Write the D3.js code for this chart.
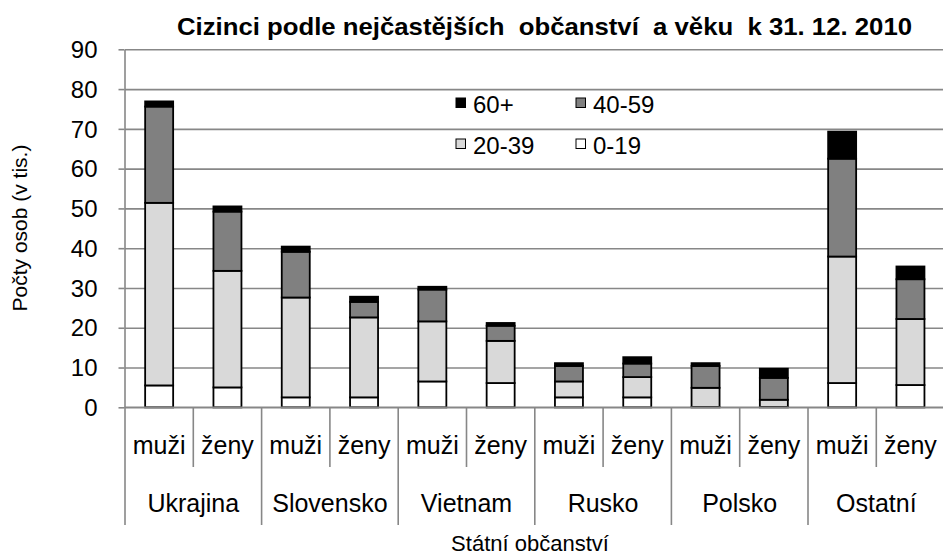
<!DOCTYPE html>
<html>
<head>
<meta charset="utf-8">
<script src="https://cdn.jsdelivr.net/npm/d3@7/dist/d3.min.js"></script>
<style>
  html, body { margin: 0; padding: 0; background: #fff; }
  svg { display: block; font-family: "Liberation Sans", Arial, sans-serif; }
</style>
</head>
<body>
<svg id="chart" width="943" height="557"></svg>
<script>
// ---- data ----
const countries = ["Ukrajina", "Slovensko", "Vietnam", "Rusko", "Polsko", "Ostatní"];
const sexes = ["muži", "ženy"];
const ageGroups = ["0-19", "20-39", "40-59", "60+"];
// values in thousands, order: Ukrajina muži, Ukrajina ženy, Slovensko muži, ...
const age0_19  = [5.5, 5.0, 2.5, 2.5, 6.5, 6.1, 2.5, 2.5, 0.1, 0.1, 6.1, 5.6];
const age20_39 = [45.9, 29.3, 25.1, 20.1, 15.1, 10.6, 4.0, 5.1, 4.8, 1.8, 31.8, 16.6];
const age40_59 = [24.2, 14.9, 11.5, 3.9, 8.0, 3.8, 3.9, 3.4, 5.5, 5.5, 24.6, 10.0];
const age60p   = [1.3, 1.3, 1.3, 1.3, 0.7, 0.7, 0.7, 1.6, 0.7, 2.3, 6.8, 3.2];
const yTicks = [0, 10, 20, 30, 40, 50, 60, 70, 80, 90];
const legendOrder = ["60+", "40-59", "20-39", "0-19"];
const colors = { "0-19": "#ffffff", "20-39": "#d9d9d9", "40-59": "#808080", "60+": "#000000" };
const titleText = "Cizinci podle nejčastějších  občanství  a věku  k 31. 12. 2010";
const yTitle = "Počty osob (v tis.)";
const xTitle = "Státní občanství";

(function () {
// ---- build table ----
const rows = [];
countries.forEach((c, ci) => sexes.forEach((s, si) => {
  const i = ci * 2 + si;
  rows.push({ idx: i, country: c, sex: s,
    "0-19": age0_19[i], "20-39": age20_39[i], "40-59": age40_59[i], "60+": age60p[i] });
}));

const svg = d3.select("#chart");
const pLeft = 125, pRight = 944.6, pTop = 49.3, pBottom = 407.3;
const x = d3.scaleBand().domain(rows.map(d => d.idx)).range([pLeft, pRight])
  .paddingInner(0.59).paddingOuter(0.295);
const y = d3.scaleLinear().domain([0, 90]).range([pBottom, pTop]);
const gridColor = "#878787";

// gridlines
svg.append("g").attr("class", "grid")
  .attr("transform", `translate(${pLeft},0)`)
  .call(d3.axisLeft(y).tickValues(yTicks).tickSize(-(943 - pLeft)).tickFormat(""))
  .call(g => g.select(".domain").remove())
  .call(g => g.selectAll("line").attr("stroke", gridColor).attr("stroke-width", 1.6));

// y axis
svg.append("g").attr("class", "yaxis")
  .attr("transform", `translate(${pLeft - 0.5},0)`)
  .call(d3.axisLeft(y).tickValues(yTicks).tickSize(6).tickPadding(21).tickSizeOuter(0))
  .call(g => g.select(".domain").attr("stroke", gridColor).attr("stroke-width", 1.6))
  .call(g => g.selectAll(".tick line").attr("stroke", gridColor).attr("stroke-width", 1.6))
  .call(g => g.selectAll("text").attr("font-size", 24).attr("fill", "#000")
    .attr("font-family", "Liberation Sans, Arial, sans-serif").attr("dy", "0.34em"));

// stacked bars
const stack = d3.stack().keys(ageGroups);
const series = stack(rows);
svg.append("g").selectAll("g").data(series).join("g")
  .attr("fill", d => colors[d.key])
  .selectAll("rect").data(d => d).join("rect")
  .attr("x", d => x(d.data.idx))
  .attr("width", x.bandwidth())
  .attr("y", d => y(d[1]))
  .attr("height", d => y(d[0]) - y(d[1]))
  .attr("stroke", "#000").attr("stroke-width", 1.8);

// x axis line (zero line)
svg.append("line").attr("x1", pLeft - 0.5).attr("x2", 943)
  .attr("y1", y(0)).attr("y2", y(0)).attr("stroke", gridColor).attr("stroke-width", 1.6);

// category separators
const step = x.step();
svg.append("g").selectAll("line").data(d3.range(rows.length + 1)).join("line")
  .attr("x1", i => pLeft + i * step).attr("x2", i => pLeft + i * step)
  .attr("y1", y(0)).attr("y2", i => (i % 2 === 0 ? 525 : 467))
  .attr("stroke", gridColor).attr("stroke-width", 1.6);

// sex labels
svg.append("g").selectAll("text").data(rows).join("text")
  .attr("x", d => x(d.idx) + x.bandwidth() / 2).attr("y", 454)
  .attr("text-anchor", "middle").attr("font-size", 25).text(d => d.sex);

// country labels
svg.append("g").selectAll("text").data(countries).join("text")
  .attr("x", (c, ci) => pLeft + (ci * 2 + 1) * step).attr("y", 512)
  .attr("text-anchor", "middle").attr("font-size", 25).text(c => c);

// axis titles
svg.append("text").attr("x", 530).attr("y", 551).attr("text-anchor", "middle")
  .attr("font-size", 22).text(xTitle);
svg.append("text").attr("transform", "translate(27,228) rotate(-90)")
  .attr("text-anchor", "middle").attr("font-size", 21).text(yTitle);

// title
svg.append("text").attr("x", 177).attr("y", 35)
  .attr("font-size", 24).attr("font-weight", "bold")
  .attr("textLength", 735).attr("lengthAdjust", "spacingAndGlyphs")
  .style("white-space", "pre")
  .text(titleText);

// legend
const legPos = [[456, 98], [576, 98], [456, 139], [576, 139]];
const leg = svg.append("g").selectAll("g").data(legendOrder).join("g")
  .attr("transform", (d, i) => `translate(${legPos[i][0]},${legPos[i][1]})`);
leg.append("rect").attr("width", 9.5).attr("height", 9.5)
  .attr("fill", d => colors[d]).attr("stroke", "#000").attr("stroke-width", 1);
leg.append("text").attr("x", 17).attr("y", 15).attr("font-size", 24).text(d => d);
})();
</script>
</body>
</html>
